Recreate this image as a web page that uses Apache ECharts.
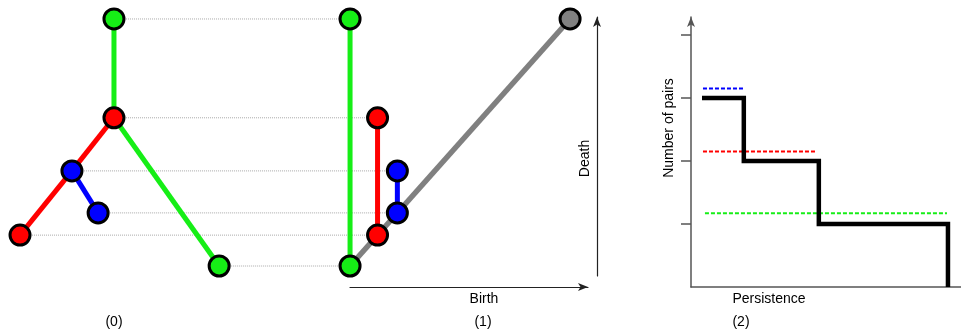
<!DOCTYPE html>
<html lang="en">
<head>
    <meta charset="UTF-8">
    <title>Persistence</title>
    <script src="https://cdn.jsdelivr.net/npm/echarts@6/dist/echarts.min.js"></script>
    <style>
        html, body { margin: 0; padding: 0; background: #fff; }
        #main { width: 961px; height: 336px; }
    </style>
</head>
<body>
<div id="main"></div>
<script>
    // tree (panel 0): node layout x, scalar value, pair colour
    var nodeX = [-10.73, -10.73, -12.64, -11.45, -15, -5.95];
    var nodeValue = [10, 6, 3.85, 2.15, 1.25, 0];
    var nodePair = ['green', 'red', 'blue', 'blue', 'red', 'green'];
    var edges = [[0, 1, 'green'], [1, 5, 'green'], [1, 2, 'red'], [2, 4, 'red'], [2, 3, 'blue']];

    // persistence pairs (panel 1)
    var pairNames = ['green', 'red', 'blue'];
    var pairBirth = [0, 1.25, 2.15];
    var pairDeath = [10, 6, 3.85];
    var diagonalMax = 10;

    // persistence curve (panel 2)
    var stepPersistence = [0, 1.7, 4.75, 10];
    var stepCount = [3, 2, 1, 0];
    var dashNames = ['blue', 'red', 'green'];
    var dashLevel = [3.15, 2.15, 1.17];
    var dashStart = [0.04, 0.04, 0.12];
    var dashEnd = [1.67, 4.6, 9.96];

    var captions = ['(0)', '(1)', '(2)'];

    var colors = {green: '#16ee16', red: '#ff0000', blue: '#0000ff', gray: '#808080'};
    var font = "'Liberation Sans', Arial, sans-serif";

    var myChart = echarts.init(document.getElementById('main'), null, {renderer: 'canvas'});

    var series = [];

    // dotted connectors from tree nodes to the diagram
    nodeX.forEach(function (x, i) {
        var p = pairNames.indexOf(nodePair[i]);
        series.push({
            type: 'line', xAxisIndex: 0, yAxisIndex: 0, z: 1,
            symbol: 'none', silent: true,
            data: [[x, nodeValue[i]], [pairBirth[p], nodeValue[i]]],
            lineStyle: {color: '#aaaaaa', width: 1, type: 'dotted'}
        });
    });

    // tree edges
    edges.forEach(function (e) {
        series.push({
            type: 'line', xAxisIndex: 0, yAxisIndex: 0, z: 2,
            symbol: 'none', silent: true,
            data: [[nodeX[e[0]], nodeValue[e[0]]], [nodeX[e[1]], nodeValue[e[1]]]],
            lineStyle: {color: colors[e[2]], width: 5, cap: 'butt'}
        });
    });

    // diagonal
    series.push({
        type: 'line', xAxisIndex: 0, yAxisIndex: 0, z: 2,
        symbol: 'none', silent: true,
        data: [[0, 0], [diagonalMax, diagonalMax]],
        lineStyle: {color: colors.gray, width: 5.5}
    });

    // pair bars
    pairNames.forEach(function (name, i) {
        series.push({
            type: 'line', xAxisIndex: 0, yAxisIndex: 0, z: 2,
            symbol: 'none', silent: true,
            data: [[pairBirth[i], pairBirth[i]], [pairBirth[i], pairDeath[i]]],
            lineStyle: {color: colors[name], width: 5}
        });
    });

    // nodes
    var nodes = [];
    nodeX.forEach(function (x, i) {
        nodes.push({value: [x, nodeValue[i]], itemStyle: {color: colors[nodePair[i]]}});
    });
    pairNames.forEach(function (name, i) {
        nodes.push({value: [pairBirth[i], pairBirth[i]], itemStyle: {color: colors[name]}});
        nodes.push({value: [pairBirth[i], pairDeath[i]], itemStyle: {color: colors[name]}});
    });
    nodes.push({value: [diagonalMax, diagonalMax], itemStyle: {color: colors.gray}});
    series.push({
        type: 'scatter', xAxisIndex: 0, yAxisIndex: 0, z: 3,
        symbolSize: 20, silent: true,
        itemStyle: {borderColor: '#000', borderWidth: 3, opacity: 1},
        data: nodes
    });

    // persistence curve
    series.push({
        type: 'line', xAxisIndex: 3, yAxisIndex: 3, z: 3,
        step: 'end', symbol: 'none', silent: true,
        data: stepPersistence.map(function (p, i) { return [p, stepCount[i]]; }),
        lineStyle: {color: '#000', width: 4.5, join: 'miter', cap: 'butt'}
    });
    dashNames.forEach(function (name, i) {
        series.push({
            type: 'line', xAxisIndex: 3, yAxisIndex: 3, z: 2,
            symbol: 'none', silent: true,
            data: [[dashStart[i], dashLevel[i]], [dashEnd[i], dashLevel[i]]],
            lineStyle: {color: colors[name], width: 2, type: [4, 2]}
        });
    });

    var axisLine = {
        show: true, onZero: false,
        symbol: ['none', 'arrow'],
        symbolSize: [6, 10],
        lineStyle: {color: '#222', width: 1.2}
    };
    var nameStyle = {color: '#000', fontSize: 14, fontFamily: font};

    myChart.setOption({
        animation: false,
        textStyle: {fontFamily: font},
        title: captions.map(function (t, i) {
            return {
                text: t,
                left: [114, 483, 741][i],
                top: 315,
                padding: 0,
                textAlign: 'center',
                textStyle: {fontFamily: font, fontSize: 14, fontWeight: 'normal', color: '#000'}
            };
        }),
        grid: [
            {left: 0, width: 600, top: 17, bottom: 49},
            {left: 350, width: 238, top: 17, bottom: 49},
            {left: 597, width: 10, top: 17, bottom: 60},
            {left: 691, right: 0, top: 17, bottom: 49}
        ],
        xAxis: [
            {gridIndex: 0, type: 'value', min: -15.91, max: 11.36, show: false},
            {
                gridIndex: 1, type: 'value', min: 0, max: 10.8,
                axisLine: axisLine, axisTick: {show: false}, axisLabel: {show: false}, splitLine: {show: false},
                name: 'Birth', nameLocation: 'middle', nameGap: 5,
                nameTextStyle: Object.assign({padding: [0, 0, 0, 30]}, nameStyle)
            },
            {gridIndex: 2, type: 'value', show: false},
            {
                gridIndex: 3, type: 'value', min: -0.447, max: 10.53,
                axisLine: {show: true, onZero: false, lineStyle: {color: '#555', width: 1.5}},
                axisTick: {show: false}, axisLabel: {show: false}, splitLine: {show: false},
                name: 'Persistence', nameLocation: 'middle', nameGap: 5,
                nameTextStyle: Object.assign({padding: [0, 114, 0, 0]}, nameStyle)
            }
        ],
        yAxis: [
            {gridIndex: 0, type: 'value', min: -0.85, max: 10.08, show: false},
            {gridIndex: 1, type: 'value', show: false},
            {
                gridIndex: 2, type: 'value', position: 'left', min: 0, max: 1,
                axisLine: axisLine, axisTick: {show: false}, axisLabel: {show: false}, splitLine: {show: false},
                name: 'Death', nameLocation: 'middle', nameGap: 5, nameRotate: 90,
                nameTextStyle: Object.assign({padding: [0, 24, 0, 0]}, nameStyle)
            },
            {
                gridIndex: 3, type: 'value', min: 0, max: 4.286, interval: 1,
                axisLine: {
                    show: true, onZero: false, symbol: ['none', 'arrow'], symbolSize: [6, 10],
                    lineStyle: {color: '#555', width: 1.5}
                },
                axisTick: {show: true, length: 10, inside: false, customValues: [1, 2, 3, 4],
                    lineStyle: {color: '#555', width: 1.5}},
                axisLabel: {show: false}, splitLine: {show: false},
                name: 'Number of pairs', nameLocation: 'middle', nameGap: 15, nameRotate: 90,
                nameTextStyle: Object.assign({padding: [0, 0, 0, 48]}, nameStyle)
            }
        ],
        series: series
    });
</script>
</body>
</html>
